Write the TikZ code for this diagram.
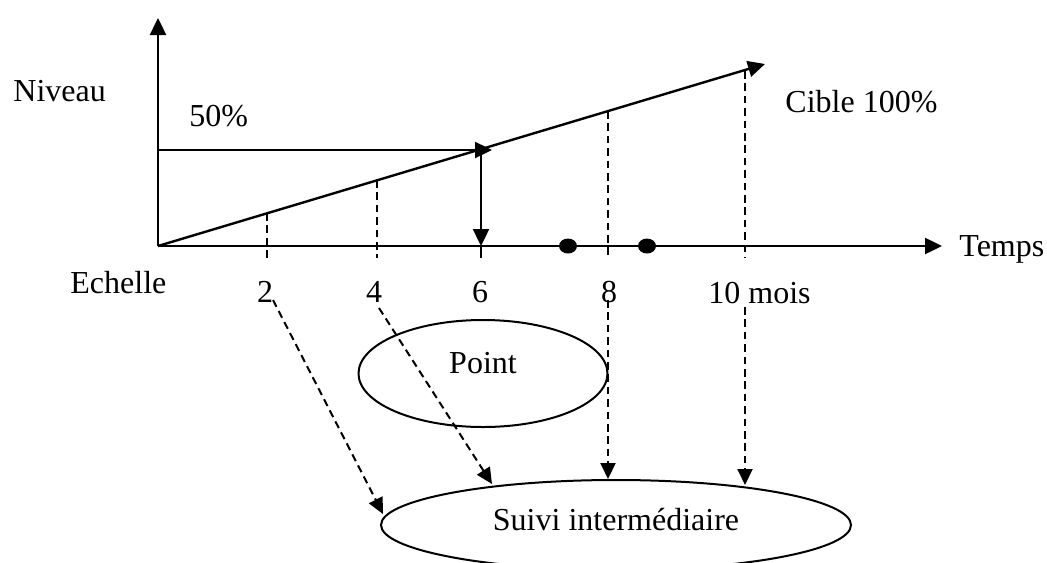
\documentclass[tikz,border=0pt]{standalone}
\usepackage{fontspec}
\setmainfont{Liberation Serif}
\usetikzlibrary{arrows.meta,shapes.geometric}
\begin{document}
\begin{tikzpicture}[x=0.5pt,y=-0.5pt,
  font=\fontsize{16}{19}\selectfont,
  solidln/.style={line width=1.2pt},
  arr/.style={solidln,-{Triangle[length=8.5pt,width=8pt]}},
  dashln/.style={line width=1pt,dash pattern=on 3.8pt off 2.4pt},
  darr/.style={dashln,-{Triangle[length=8pt,width=7.5pt]}},
  lbl/.style={inner sep=0pt},
  ell/.style={ellipse,draw,line width=1pt,inner sep=0pt},
  dotnode/.style={ellipse,fill,inner sep=0pt,minimum width=9pt,minimum height=7.5pt}]
\useasboundingbox (0,0) rectangle (1047,562);

% axes and lines
\coordinate (O) at (158,246);
\coordinate (ytop) at (158,18);
\coordinate (xend) at (942,246);
\coordinate (dend) at (765,64);
\coordinate (h0) at (158,150);
\coordinate (h1) at (492,150);
\coordinate (v0) at (481,150);
\coordinate (v1) at (481,246);
\coordinate (t6) at (481,258);

\draw[arr] (O) -- (ytop);
\draw[arr] (O) -- (xend);
\draw[arr] (O) -- (dend);
\draw[arr] (h0) -- (h1);
\draw[arr] (v0) -- (v1);
\draw[solidln] (v1) -- (t6);

% dashed verticals
\coordinate (a2) at (267,213);  \coordinate (b2) at (267,258);
\coordinate (a4) at (377,180);  \coordinate (b4) at (377,258);
\coordinate (a8) at (608,111);  \coordinate (b8) at (608,258);
\coordinate (a10) at (745,71);  \coordinate (b10) at (745,258);
\draw[dashln] (a2) -- (b2);
\draw[dashln] (a4) -- (b4);
\draw[dashln] (a8) -- (b8);
\draw[dashln] (a10) -- (b10);

% dots
\node[dotnode] (dot1) at (568,246) {};
\node[dotnode] (dot2) at (647,246) {};

% labels
\node[lbl,anchor=base west] (niveau) at (13,101) {Niveau};
\node[lbl,anchor=base west] (cinquante) at (189,126) {50\%};
\node[lbl,anchor=base west] (echelle) at (70,293) {Echelle};
\node[lbl,anchor=base west] (cible) at (785,112) {Cible 100\%};
\node[lbl,anchor=base west] (temps) at (959,256) {Temps};
\node[lbl,anchor=base] (l2) at (265,302) {2};
\node[lbl,anchor=base] (l4) at (374,302) {4};
\node[lbl,anchor=base] (l6) at (480,302) {6};
\node[lbl,anchor=base] (l8) at (609,302) {8};
\node[lbl,anchor=base west] (l10) at (708,303) {10 mois};

% ellipses
\node[ell,minimum width=124.5pt,minimum height=53.5pt,text height=0.7em,text depth=0.7em] (point) at (483,373.5) {Point};
\node[ell,minimum width=235pt,minimum height=45pt,text height=11pt,text depth=6pt] (suivi) at (616,525) {Suivi intermédiaire};

% dashed arrows
\coordinate (s2) at (273,300);  \coordinate (e2) at (383,514);
\coordinate (s4) at (379,308);  \coordinate (e4) at (492,484);
\coordinate (s8) at (608,300);  \coordinate (e8) at (608,479);
\coordinate (s10) at (745,307); \coordinate (e10) at (745,485);
\draw[darr] (s2) -- (e2);
\draw[darr] (s4) -- (e4);
\draw[darr] (s8) -- (e8);
\draw[darr] (s10) -- (e10);
\end{tikzpicture}
\end{document}
